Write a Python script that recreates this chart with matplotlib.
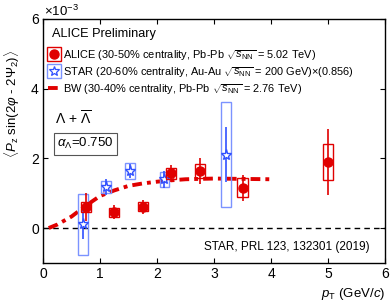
import matplotlib
matplotlib.use("Agg")
import matplotlib.pyplot as plt
from matplotlib.lines import Line2D

plt.rcParams['font.family'] = ['Liberation Sans', 'DejaVu Sans']
plt.rcParams['mathtext.fontset'] = 'custom'
plt.rcParams['mathtext.rm'] = 'Liberation Sans'
plt.rcParams['mathtext.it'] = 'Liberation Sans:italic'
plt.rcParams['mathtext.bf'] = 'Liberation Sans:bold'

# ALICE 30-50%, values in units of 1e-3
alice_pt = [0.75, 1.25, 1.75, 2.25, 2.75, 3.5, 5.0]
alice_val = [0.61, 0.45, 0.61, 1.57, 1.64, 1.16, 1.90]
alice_stat = [0.40, 0.20, 0.20, 0.24, 0.38, 0.37, 0.95]
alice_sys = [0.15, 0.13, 0.13, 0.15, 0.19, 0.28, 0.52]

# STAR 20-60% (scaled by 0.856)
star_pt = [0.70, 1.10, 1.52, 2.13, 3.21]
star_val = [0.11, 1.18, 1.64, 1.40, 2.11]
star_stat = [0.43, 0.24, 0.20, 0.25, 0.78]
star_sys = [0.88, 0.17, 0.22, 0.21, 1.50]

# blast-wave curve
bw_pt = [0.1, 0.25, 0.5, 0.75, 1.0, 1.25, 1.5, 1.75, 2.0, 2.25, 2.5, 3.0, 3.5, 4.0]
bw_val = [0.0, 0.10, 0.33, 0.64, 0.92, 1.08, 1.21, 1.28, 1.33, 1.37, 1.40, 1.42, 1.41, 1.40]

red = '#e00000'
blue = '#3050ff'
lblue = '#7b93ff'
bw_style = (0, (2.5, 1.3, 1, 1.3))

fig = plt.figure(figsize=(3.91, 3.05), dpi=100)
ax = fig.add_axes([0.110, 0.138, 0.875, 0.800])

ax.axhline(0, color='black', ls=(0, (4, 3)), lw=1.0, zorder=1)

ax.plot(bw_pt, bw_val, color=red, lw=2.8, ls=bw_style, zorder=2)

ax.bar(star_pt, [2 * s for s in star_sys], bottom=[v - s for v, s in zip(star_val, star_sys)],
       width=0.17, fill=False, edgecolor=lblue, lw=1.0, zorder=3)
ax.errorbar(star_pt, star_val, yerr=star_stat, fmt='*', color=blue, mfc='white', mec=blue,
            ms=8, mew=1.0, elinewidth=1.2, capsize=0, zorder=4)

ax.bar(alice_pt, [2 * s for s in alice_sys], bottom=[v - s for v, s in zip(alice_val, alice_sys)],
       width=0.18, fill=False, edgecolor=red, lw=1.0, zorder=5)
ax.errorbar(alice_pt, alice_val, yerr=alice_stat, fmt='o', color=red, ms=6.5,
            elinewidth=1.2, capsize=0, zorder=6)

ax.set_xlim(0, 6)
ax.set_ylim(-1, 6)
ax.set_xticks(range(0, 7))
ax.set_yticks([0, 2, 4, 6])
ax.tick_params(direction='in', top=True, right=True, labelsize=10, length=3.5, width=0.8, pad=3)
for sp in ax.spines.values():
    sp.set_linewidth(1.0)

fig.text(0.112, 0.939, r'$\times10^{-3}$', fontsize=9.5, ha='left', va='bottom')
fig.text(0.032, 0.66, r'$\langle P_{\rm z}$ sin(2$\varphi$ - 2$\Psi_{2}$)$\rangle$',
         rotation=90, fontsize=9.5, ha='center', va='center')
ax.text(1.0, -0.095, r'$p_{\rm T}$ (GeV/$c$)', transform=ax.transAxes, fontsize=9.5,
        ha='right', va='top')

ax.text(0.026, 0.94, 'ALICE Preliminary', transform=ax.transAxes, fontsize=9.2, va='center')

h_alice = (Line2D([], [], marker='s', ls='none', mfc='none', mec=red, ms=10, mew=1.0),
           Line2D([], [], marker='o', ls='none', color=red, ms=6.5))
h_star = (Line2D([], [], marker='s', ls='none', mfc='none', mec=lblue, ms=10, mew=1.0),
          Line2D([], [], marker='*', ls='none', mfc='white', mec=blue, ms=7, mew=0.9))
h_bw = Line2D([], [], color=red, lw=2.8, ls=bw_style)
labels = [r'ALICE (30-50% centrality, Pb-Pb $\sqrt{s_{\rm NN}}$ = 5.02 TeV)',
          r'STAR (20-60% centrality, Au-Au $\sqrt{s_{\rm NN}}$ = 200 GeV)$\times$(0.856)',
          r'BW (30-40% centrality, Pb-Pb $\sqrt{s_{\rm NN}}$ = 2.76 TeV)']
ax.legend([h_alice, h_star, h_bw], labels, loc='upper left', bbox_to_anchor=(0.0, 0.905),
          frameon=False, fontsize=7.9, handlelength=1.0, handletextpad=0.3,
          labelspacing=0.28, borderaxespad=0.3, borderpad=0.2)

ax.text(0.036, 0.594, r'$\Lambda$ + $\overline{\Lambda}$', transform=ax.transAxes, fontsize=10,
        va='center')
ax.text(0.042, 0.488, r'$\alpha_{\Lambda}$=0.750', transform=ax.transAxes, fontsize=9.5,
        va='center', bbox=dict(boxstyle='square,pad=0.25', fc='white', ec='#555555', lw=0.8))

ax.text(0.713, 0.066, 'STAR, PRL 123, 132301 (2019)', transform=ax.transAxes, fontsize=8.5,
        ha='center', va='center')

fig.savefig('out.png', dpi=100)
